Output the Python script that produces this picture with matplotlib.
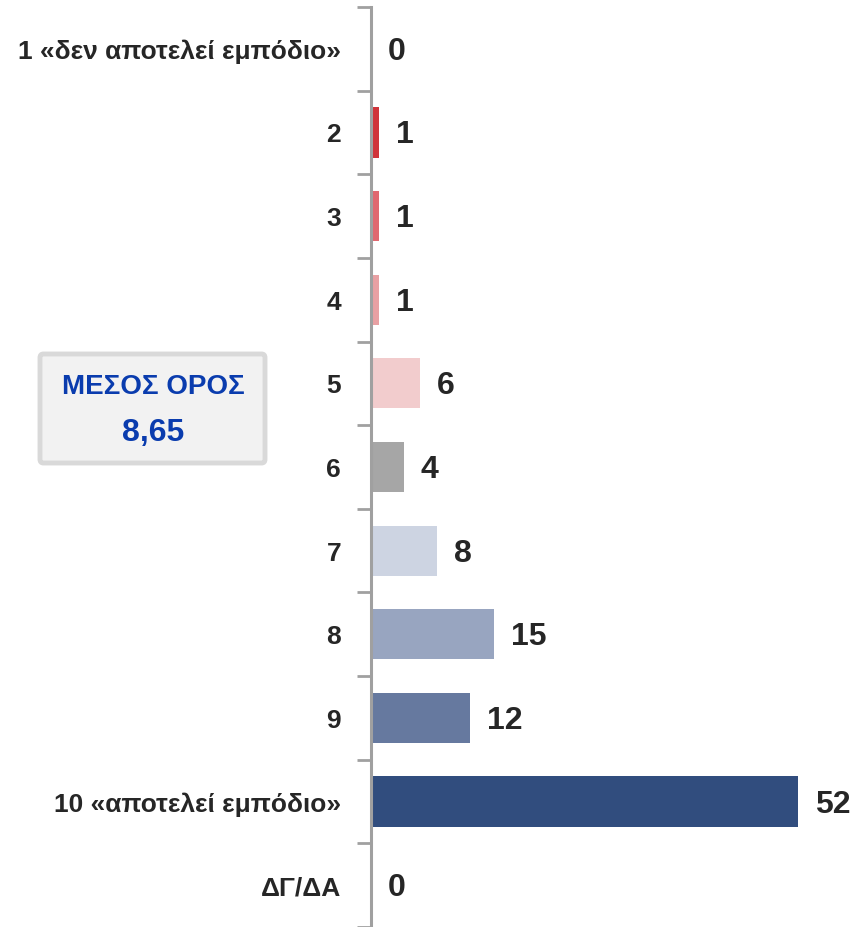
import matplotlib
matplotlib.use("Agg")
import matplotlib.pyplot as plt
from matplotlib.patches import FancyBboxPatch

categories = ["1 «δεν αποτελεί εμπόδιο»", "2", "3", "4", "5", "6", "7", "8", "9",
              "10 «αποτελεί εμπόδιο»", "ΔΓ/ΔΑ"]
values = [0, 1, 1, 1, 6, 4, 8, 15, 12, 52, 0]
colors = ["#ffffff", "#d0343a", "#e06870", "#e8a0a3", "#f2cccd", "#a6a6a6",
          "#cdd4e2", "#98a5c0", "#66799f", "#314d7e", "#ffffff"]
mean_title = "ΜΕΣΟΣ ΟΡΟΣ"
mean_value = "8,65"

FONT = ["Liberation Sans Narrow", "Liberation Sans", "DejaVu Sans"]
plt.rcParams["font.family"] = FONT

W, H = 851, 927
fig = plt.figure(figsize=(W / 100, H / 100), dpi=100)
ax_left = 371 / W
ax = fig.add_axes([ax_left, 0, 1 - ax_left, 920 / H])
n = len(categories)
ypos = list(range(n))
ax.barh(ypos, values, height=0.6, color=colors, zorder=2)
ax.set_ylim(n - 0.5, -0.5)
ax.set_xlim(0, (W - 371) / 8.21)

for s in ["top", "right", "bottom"]:
    ax.spines[s].set_visible(False)
ax.spines["left"].set_color("#a0a0a0")
ax.spines["left"].set_linewidth(2.2)
ax.set_xticks([])
ax.set_yticks([i - 0.5 for i in range(n + 1)])
ax.set_yticklabels([])
ax.tick_params(axis="y", length=10, width=2, color="#a0a0a0", direction="out")

for i, (c, v) in enumerate(zip(categories, values)):
    ax.annotate(c, xy=(0, i), xycoords="data", xytext=(-30, -3), textcoords="offset pixels",
                ha="right", va="center", fontsize=19, fontweight="bold", color="#262626")
    ax.annotate(str(v), xy=(v, i), xycoords="data", xytext=(17, -3), textcoords="offset pixels",
                ha="left", va="center", fontsize=23, fontweight="bold", color="#262626")

box = FancyBboxPatch((40 / W, 1 - 463 / H), 225 / W, 109 / H,
                     boxstyle="round,pad=0,rounding_size=0.004",
                     transform=fig.transFigure, facecolor="#f2f2f2",
                     edgecolor="#d9d9d9", linewidth=3.5)
fig.patches.append(box)
fig.text(153 / W, 1 - 387 / H, mean_title, ha="center", va="center",
         fontsize=20, fontweight="bold", color="#0a3cae")
fig.text(153 / W, 1 - 433 / H, mean_value, ha="center", va="center",
         fontsize=23, fontweight="bold", color="#0a3cae")

fig.savefig("out.png", dpi=100)
